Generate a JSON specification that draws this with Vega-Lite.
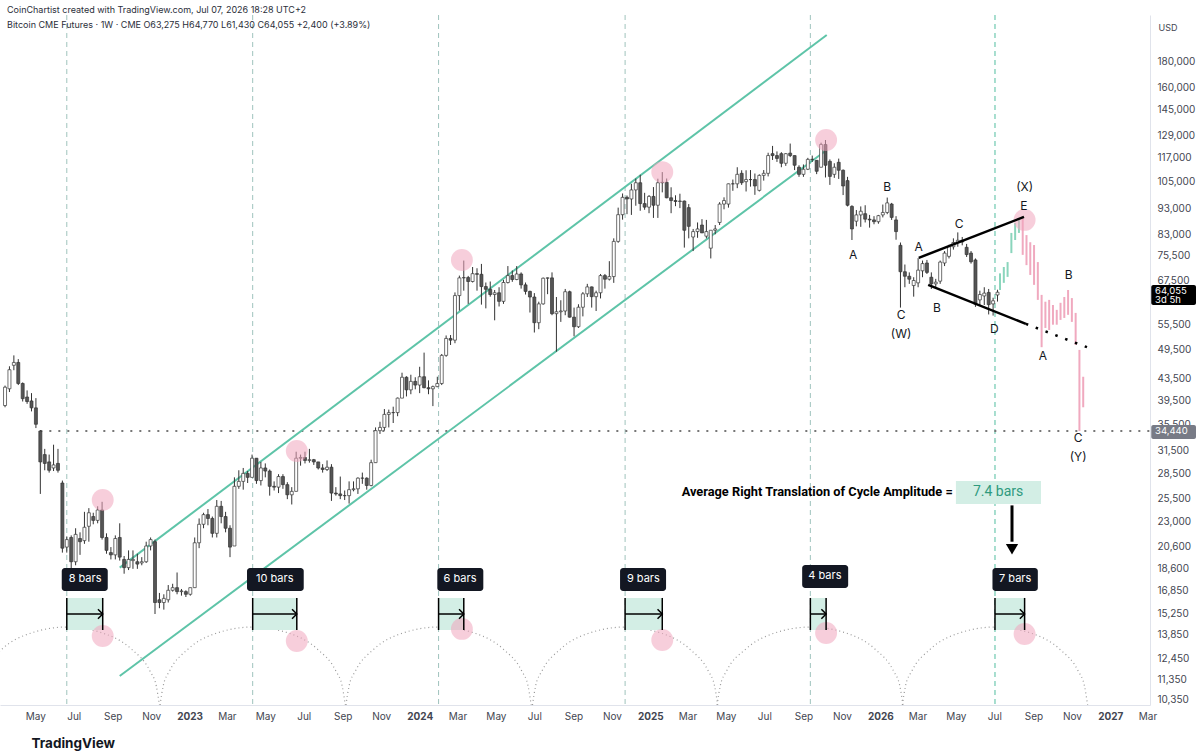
{
"$schema":"https://vega.github.io/schema/vega-lite/v6.json",
"width":1150,"height":690,
"autosize":{"type":"none"},
"padding":{"left":0,"top":15,"right":50,"bottom":51},
"background":"#ffffff",
"config":{"view":{"stroke":null},"font":"Inter"},
"title":{"text":"CoinChartist created with TradingView.com, Jul 07, 2026 18:28 UTC+2","subtitle":"Bitcoin CME Futures · 1W · CME  O63,275  H64,770  L61,430  C64,055  +2,400 (+3.89%)","anchor":"start","frame":"group","offset":-16,"dx":7,"fontSize":9,"fontWeight":"normal","color":"#2a2e39","subtitleFontSize":9,"subtitleColor":"#2a2e39","subtitlePadding":6,"font":"Inter","subtitleFont":"Inter"},
"datasets":{
"candles":[
{"d":"2022-03-14","o":38.6,"h":42.2,"l":38.3,"c":41.9},
{"d":"2022-03-21","o":41.6,"h":46.0,"l":41.0,"c":45.3},
{"d":"2022-03-28","o":46.2,"h":48.3,"l":45.2,"c":46.8},
{"d":"2022-04-04","o":46.8,"h":47.5,"l":42.3,"c":42.6},
{"d":"2022-04-11","o":42.6,"h":42.8,"l":39.3,"c":39.8},
{"d":"2022-04-18","o":40.1,"h":41.3,"l":38.9,"c":39.3},
{"d":"2022-04-25","o":39.4,"h":40.8,"l":37.6,"c":38.2},
{"d":"2022-05-02","o":38.2,"h":39.9,"l":34.9,"c":35.5},
{"d":"2022-05-09","o":34.44,"h":34.6,"l":26.0,"c":30.0},
{"d":"2022-05-16","o":31.0,"h":31.8,"l":28.9,"c":29.8},
{"d":"2022-05-23","o":30.0,"h":31.0,"l":28.6,"c":28.9},
{"d":"2022-05-30","o":29.2,"h":32.4,"l":28.8,"c":29.6},
{"d":"2022-06-06","o":29.8,"h":31.8,"l":28.6,"c":28.9},
{"d":"2022-06-13","o":27.3,"h":27.6,"l":20.0,"c":20.4},
{"d":"2022-06-20","o":20.5,"h":21.5,"l":20.0,"c":21.2},
{"d":"2022-06-27","o":21.4,"h":21.6,"l":18.5,"c":19.2},
{"d":"2022-07-04","o":19.2,"h":22.3,"l":18.9,"c":21.7},
{"d":"2022-07-11","o":21.3,"h":21.9,"l":19.8,"c":21.0},
{"d":"2022-07-18","o":21.1,"h":24.0,"l":20.8,"c":22.4},
{"d":"2022-07-25","o":22.5,"h":24.4,"l":21.0,"c":23.9},
{"d":"2022-08-01","o":23.5,"h":23.9,"l":22.7,"c":23.1},
{"d":"2022-08-08","o":23.1,"h":24.6,"l":22.8,"c":24.2},
{"d":"2022-08-15","o":24.2,"h":25.1,"l":21.2,"c":21.4},
{"d":"2022-08-22","o":21.4,"h":21.8,"l":19.9,"c":20.2},
{"d":"2022-08-29","o":20.0,"h":20.5,"l":19.4,"c":19.8},
{"d":"2022-09-05","o":19.8,"h":21.6,"l":19.4,"c":21.3},
{"d":"2022-09-12","o":21.4,"h":22.8,"l":19.3,"c":19.6},
{"d":"2022-09-19","o":19.4,"h":19.7,"l":18.2,"c":18.7},
{"d":"2022-09-26","o":18.7,"h":20.2,"l":18.5,"c":19.4},
{"d":"2022-10-03","o":19.3,"h":20.2,"l":18.6,"c":19.4},
{"d":"2022-10-10","o":19.2,"h":19.9,"l":18.6,"c":19.0},
{"d":"2022-10-17","o":19.1,"h":19.6,"l":18.9,"c":19.2},
{"d":"2022-10-24","o":19.2,"h":21.0,"l":19.1,"c":20.6},
{"d":"2022-10-31","o":20.6,"h":21.4,"l":20.2,"c":21.2},
{"d":"2022-11-07","o":21.0,"h":21.2,"l":15.2,"c":16.0},
{"d":"2022-11-14","o":16.2,"h":16.7,"l":15.6,"c":16.0},
{"d":"2022-11-21","o":16.0,"h":16.6,"l":15.5,"c":16.3},
{"d":"2022-11-28","o":16.2,"h":17.3,"l":16.0,"c":16.9},
{"d":"2022-12-05","o":16.9,"h":17.4,"l":16.8,"c":17.1},
{"d":"2022-12-12","o":17.1,"h":18.3,"l":16.6,"c":16.8},
{"d":"2022-12-19","o":16.8,"h":17.0,"l":16.5,"c":16.85},
{"d":"2022-12-26","o":16.8,"h":16.9,"l":16.4,"c":16.6},
{"d":"2023-01-02","o":16.6,"h":17.1,"l":16.5,"c":17.1},
{"d":"2023-01-09","o":17.1,"h":21.4,"l":17.1,"c":20.9},
{"d":"2023-01-16","o":20.9,"h":23.3,"l":20.4,"c":22.7},
{"d":"2023-01-23","o":22.7,"h":23.9,"l":22.3,"c":23.7},
{"d":"2023-01-30","o":23.7,"h":24.3,"l":22.6,"c":23.3},
{"d":"2023-02-06","o":23.3,"h":23.5,"l":21.4,"c":21.8},
{"d":"2023-02-13","o":21.8,"h":25.3,"l":21.4,"c":24.6},
{"d":"2023-02-20","o":24.6,"h":25.2,"l":22.8,"c":23.5},
{"d":"2023-02-27","o":23.5,"h":24.0,"l":21.9,"c":22.3},
{"d":"2023-03-06","o":22.3,"h":22.6,"l":19.6,"c":20.5},
{"d":"2023-03-13","o":20.6,"h":28.0,"l":20.6,"c":26.9},
{"d":"2023-03-20","o":26.9,"h":28.9,"l":26.6,"c":27.5},
{"d":"2023-03-27","o":27.5,"h":29.2,"l":26.5,"c":28.5},
{"d":"2023-04-03","o":28.5,"h":28.8,"l":27.3,"c":28.0},
{"d":"2023-04-10","o":28.0,"h":31.0,"l":28.0,"c":30.5},
{"d":"2023-04-17","o":30.5,"h":30.5,"l":27.2,"c":27.6},
{"d":"2023-04-24","o":27.6,"h":30.0,"l":27.0,"c":29.2},
{"d":"2023-05-01","o":29.2,"h":29.8,"l":28.0,"c":28.8},
{"d":"2023-05-08","o":28.8,"h":29.0,"l":25.8,"c":26.9},
{"d":"2023-05-15","o":26.9,"h":27.5,"l":26.4,"c":26.8},
{"d":"2023-05-22","o":26.8,"h":28.4,"l":26.1,"c":28.1},
{"d":"2023-05-29","o":28.1,"h":28.4,"l":26.6,"c":27.1},
{"d":"2023-06-05","o":27.1,"h":27.4,"l":25.4,"c":25.9},
{"d":"2023-06-12","o":25.9,"h":26.8,"l":24.8,"c":26.3},
{"d":"2023-06-19","o":26.3,"h":31.4,"l":26.3,"c":30.5},
{"d":"2023-06-26","o":30.5,"h":31.0,"l":29.5,"c":30.6},
{"d":"2023-07-03","o":30.6,"h":31.4,"l":29.8,"c":30.2},
{"d":"2023-07-10","o":30.2,"h":31.8,"l":29.9,"c":30.3},
{"d":"2023-07-17","o":30.3,"h":30.4,"l":29.6,"c":30.0},
{"d":"2023-07-24","o":30.0,"h":30.0,"l":29.0,"c":29.2},
{"d":"2023-07-31","o":29.2,"h":29.7,"l":28.6,"c":29.0},
{"d":"2023-08-07","o":29.0,"h":30.2,"l":28.8,"c":29.3},
{"d":"2023-08-14","o":29.3,"h":29.7,"l":25.2,"c":26.1},
{"d":"2023-08-21","o":26.1,"h":26.8,"l":25.8,"c":26.0},
{"d":"2023-08-28","o":26.0,"h":28.1,"l":25.4,"c":25.8},
{"d":"2023-09-04","o":25.8,"h":26.4,"l":25.3,"c":25.8},
{"d":"2023-09-11","o":25.8,"h":27.5,"l":24.9,"c":26.5},
{"d":"2023-09-18","o":26.5,"h":27.5,"l":26.3,"c":26.6},
{"d":"2023-09-25","o":26.6,"h":28.0,"l":26.0,"c":27.9},
{"d":"2023-10-02","o":27.9,"h":28.6,"l":27.2,"c":27.9},
{"d":"2023-10-09","o":27.9,"h":28.0,"l":26.5,"c":27.0},
{"d":"2023-10-16","o":27.0,"h":30.3,"l":26.9,"c":29.9},
{"d":"2023-10-23","o":29.9,"h":35.0,"l":29.9,"c":34.5},
{"d":"2023-10-30","o":34.5,"h":35.9,"l":34.0,"c":35.0},
{"d":"2023-11-06","o":35.0,"h":38.0,"l":34.5,"c":37.1},
{"d":"2023-11-13","o":37.1,"h":37.9,"l":35.0,"c":37.4},
{"d":"2023-11-20","o":37.4,"h":38.4,"l":35.7,"c":37.4},
{"d":"2023-11-27","o":37.4,"h":40.0,"l":36.8,"c":39.9},
{"d":"2023-12-04","o":39.9,"h":44.7,"l":39.9,"c":43.8},
{"d":"2023-12-11","o":43.8,"h":44.0,"l":40.2,"c":41.4},
{"d":"2023-12-18","o":41.4,"h":44.3,"l":40.6,"c":43.0},
{"d":"2023-12-25","o":43.0,"h":43.8,"l":41.5,"c":42.3},
{"d":"2024-01-01","o":42.3,"h":45.9,"l":40.8,"c":43.9},
{"d":"2024-01-08","o":43.9,"h":48.9,"l":41.7,"c":41.8},
{"d":"2024-01-15","o":41.8,"h":43.2,"l":40.6,"c":41.6},
{"d":"2024-01-22","o":41.6,"h":42.2,"l":38.5,"c":42.0},
{"d":"2024-01-29","o":42.0,"h":43.9,"l":41.9,"c":42.6},
{"d":"2024-02-05","o":42.6,"h":48.6,"l":42.3,"c":48.3},
{"d":"2024-02-12","o":48.3,"h":52.8,"l":48.0,"c":52.1},
{"d":"2024-02-19","o":52.1,"h":52.9,"l":50.6,"c":51.7},
{"d":"2024-02-26","o":51.7,"h":64.0,"l":51.0,"c":63.1},
{"d":"2024-03-04","o":63.1,"h":69.0,"l":59.0,"c":68.3},
{"d":"2024-03-11","o":68.3,"h":73.8,"l":64.5,"c":68.4},
{"d":"2024-03-18","o":68.4,"h":68.9,"l":60.8,"c":67.2},
{"d":"2024-03-25","o":67.2,"h":71.7,"l":66.9,"c":69.6},
{"d":"2024-04-01","o":69.6,"h":71.3,"l":64.5,"c":69.4},
{"d":"2024-04-08","o":69.4,"h":72.7,"l":60.6,"c":65.7},
{"d":"2024-04-15","o":65.7,"h":66.9,"l":59.6,"c":64.9},
{"d":"2024-04-22","o":64.9,"h":67.2,"l":62.8,"c":63.4},
{"d":"2024-04-29","o":63.4,"h":64.7,"l":56.5,"c":63.9},
{"d":"2024-05-06","o":63.9,"h":65.5,"l":60.1,"c":61.5},
{"d":"2024-05-13","o":61.5,"h":67.7,"l":60.8,"c":66.9},
{"d":"2024-05-20","o":66.9,"h":72.0,"l":66.6,"c":69.0},
{"d":"2024-05-27","o":69.0,"h":70.6,"l":67.1,"c":67.8},
{"d":"2024-06-03","o":67.8,"h":72.0,"l":67.6,"c":69.5},
{"d":"2024-06-10","o":69.5,"h":70.0,"l":65.1,"c":66.2},
{"d":"2024-06-17","o":66.2,"h":66.9,"l":63.4,"c":64.3},
{"d":"2024-06-24","o":64.3,"h":64.5,"l":58.5,"c":62.7},
{"d":"2024-07-01","o":62.7,"h":63.8,"l":53.5,"c":55.9},
{"d":"2024-07-08","o":55.9,"h":61.4,"l":54.3,"c":60.8},
{"d":"2024-07-15","o":60.8,"h":68.4,"l":60.6,"c":68.2},
{"d":"2024-07-22","o":68.2,"h":68.4,"l":63.5,"c":68.3},
{"d":"2024-07-29","o":68.3,"h":70.0,"l":57.8,"c":58.2},
{"d":"2024-08-05","o":58.2,"h":62.7,"l":49.1,"c":58.7},
{"d":"2024-08-12","o":58.7,"h":61.8,"l":56.1,"c":58.9},
{"d":"2024-08-19","o":58.9,"h":65.0,"l":57.8,"c":64.2},
{"d":"2024-08-26","o":64.2,"h":64.5,"l":57.2,"c":57.3},
{"d":"2024-09-02","o":57.3,"h":59.8,"l":52.6,"c":54.9},
{"d":"2024-09-09","o":54.9,"h":60.7,"l":54.6,"c":59.9},
{"d":"2024-09-16","o":59.9,"h":64.1,"l":57.5,"c":63.6},
{"d":"2024-09-23","o":63.6,"h":66.5,"l":62.7,"c":65.6},
{"d":"2024-09-30","o":65.6,"h":65.7,"l":59.8,"c":62.8},
{"d":"2024-10-07","o":62.8,"h":64.5,"l":58.9,"c":63.9},
{"d":"2024-10-14","o":63.9,"h":69.5,"l":62.3,"c":69.0},
{"d":"2024-10-21","o":69.0,"h":69.5,"l":65.1,"c":67.9},
{"d":"2024-10-28","o":67.9,"h":73.6,"l":67.5,"c":68.7},
{"d":"2024-11-04","o":68.7,"h":81.5,"l":66.8,"c":80.4},
{"d":"2024-11-11","o":80.4,"h":93.5,"l":79.9,"c":90.6},
{"d":"2024-11-18","o":90.6,"h":99.6,"l":88.6,"c":97.9},
{"d":"2024-11-25","o":97.9,"h":98.7,"l":90.8,"c":97.2},
{"d":"2024-12-02","o":97.2,"h":104.0,"l":90.5,"c":101.2},
{"d":"2024-12-09","o":101.2,"h":106.5,"l":94.3,"c":104.5},
{"d":"2024-12-16","o":104.5,"h":108.3,"l":92.2,"c":95.2},
{"d":"2024-12-23","o":95.2,"h":99.9,"l":92.6,"c":93.7},
{"d":"2024-12-30","o":93.7,"h":98.9,"l":91.2,"c":98.3},
{"d":"2025-01-06","o":98.3,"h":102.5,"l":89.3,"c":94.5},
{"d":"2025-01-13","o":94.5,"h":106.4,"l":89.3,"c":104.5},
{"d":"2025-01-20","o":104.5,"h":109.6,"l":100.1,"c":104.7},
{"d":"2025-01-27","o":104.7,"h":106.5,"l":97.5,"c":97.7},
{"d":"2025-02-03","o":97.7,"h":102.4,"l":91.2,"c":96.5},
{"d":"2025-02-10","o":96.5,"h":98.8,"l":94.1,"c":96.1},
{"d":"2025-02-17","o":96.1,"h":99.5,"l":93.3,"c":96.3},
{"d":"2025-02-24","o":96.3,"h":96.5,"l":78.2,"c":84.5},
{"d":"2025-03-03","o":93.5,"h":95.0,"l":81.5,"c":86.0},
{"d":"2025-03-10","o":82.0,"h":85.0,"l":77.0,"c":84.0},
{"d":"2025-03-17","o":84.0,"h":87.5,"l":81.7,"c":85.0},
{"d":"2025-03-24","o":86.5,"h":88.8,"l":83.5,"c":83.5},
{"d":"2025-03-31","o":82.3,"h":88.5,"l":81.5,"c":84.0},
{"d":"2025-04-07","o":78.0,"h":83.6,"l":74.5,"c":84.5},
{"d":"2025-04-14","o":84.5,"h":86.5,"l":83.0,"c":85.0},
{"d":"2025-04-21","o":87.5,"h":95.8,"l":86.5,"c":95.0},
{"d":"2025-04-28","o":95.0,"h":97.9,"l":92.8,"c":96.5},
{"d":"2025-05-05","o":95.0,"h":104.1,"l":93.5,"c":104.0},
{"d":"2025-05-12","o":104.0,"h":106.0,"l":100.8,"c":104.0},
{"d":"2025-05-19","o":104.0,"h":112.0,"l":102.0,"c":108.5},
{"d":"2025-05-26","o":109.0,"h":110.5,"l":103.5,"c":104.5},
{"d":"2025-06-02","o":105.0,"h":110.5,"l":100.5,"c":106.0},
{"d":"2025-06-09","o":106.0,"h":110.6,"l":102.7,"c":106.0},
{"d":"2025-06-16","o":106.0,"h":108.9,"l":99.0,"c":103.0},
{"d":"2025-06-23","o":101.0,"h":108.5,"l":100.5,"c":108.0},
{"d":"2025-06-30","o":108.0,"h":110.6,"l":105.5,"c":109.0},
{"d":"2025-07-07","o":109.0,"h":119.5,"l":107.5,"c":118.0},
{"d":"2025-07-14","o":119.0,"h":123.2,"l":115.7,"c":118.0},
{"d":"2025-07-21","o":118.0,"h":120.2,"l":114.7,"c":116.5},
{"d":"2025-07-28","o":119.0,"h":119.8,"l":112.0,"c":114.0},
{"d":"2025-08-04","o":114.0,"h":119.3,"l":112.7,"c":119.0},
{"d":"2025-08-11","o":119.3,"h":124.5,"l":117.2,"c":118.0},
{"d":"2025-08-18","o":118.0,"h":118.0,"l":110.6,"c":113.0},
{"d":"2025-08-25","o":112.0,"h":113.0,"l":107.3,"c":108.5},
{"d":"2025-09-01","o":108.5,"h":113.4,"l":107.3,"c":111.0},
{"d":"2025-09-08","o":111.0,"h":116.8,"l":110.6,"c":116.0},
{"d":"2025-09-15","o":116.0,"h":118.0,"l":114.7,"c":116.0},
{"d":"2025-09-22","o":115.5,"h":115.6,"l":108.6,"c":110.0},
{"d":"2025-09-29","o":112.0,"h":125.0,"l":112.0,"c":124.0},
{"d":"2025-10-06","o":124.0,"h":126.5,"l":107.0,"c":113.0},
{"d":"2025-10-13","o":115.0,"h":116.0,"l":103.5,"c":107.5},
{"d":"2025-10-20","o":108.5,"h":114.0,"l":106.8,"c":112.0},
{"d":"2025-10-27","o":114.5,"h":116.4,"l":106.3,"c":110.5},
{"d":"2025-11-03","o":110.5,"h":110.9,"l":98.9,"c":103.0},
{"d":"2025-11-10","o":105.5,"h":107.3,"l":94.0,"c":94.5},
{"d":"2025-11-17","o":94.0,"h":94.5,"l":80.9,"c":85.0},
{"d":"2025-11-24","o":88.0,"h":92.5,"l":86.0,"c":90.5},
{"d":"2025-12-01","o":90.5,"h":94.0,"l":85.8,"c":92.0},
{"d":"2025-12-08","o":91.0,"h":94.5,"l":87.5,"c":88.8},
{"d":"2025-12-15","o":88.8,"h":90.5,"l":85.5,"c":88.5},
{"d":"2025-12-22","o":88.5,"h":90.0,"l":86.8,"c":87.8},
{"d":"2025-12-29","o":87.8,"h":90.5,"l":87.0,"c":90.2},
{"d":"2026-01-05","o":90.5,"h":94.8,"l":89.5,"c":91.5},
{"d":"2026-01-12","o":91.5,"h":97.8,"l":90.8,"c":95.5},
{"d":"2026-01-19","o":95.0,"h":95.5,"l":88.5,"c":89.5},
{"d":"2026-01-26","o":88.5,"h":90.0,"l":81.0,"c":84.0},
{"d":"2026-02-02","o":79.0,"h":80.0,"l":59.8,"c":70.2},
{"d":"2026-02-09","o":70.2,"h":72.5,"l":65.5,"c":68.8},
{"d":"2026-02-16","o":68.8,"h":70.0,"l":66.5,"c":67.9},
{"d":"2026-02-23","o":66.0,"h":68.5,"l":62.8,"c":67.5},
{"d":"2026-03-02","o":66.8,"h":74.6,"l":65.5,"c":70.7},
{"d":"2026-03-09","o":70.5,"h":73.8,"l":68.5,"c":72.8},
{"d":"2026-03-16","o":73.0,"h":74.0,"l":69.5,"c":70.0},
{"d":"2026-03-23","o":68.5,"h":70.0,"l":65.0,"c":66.5},
{"d":"2026-03-30","o":66.5,"h":68.0,"l":65.5,"c":67.0},
{"d":"2026-04-06","o":67.3,"h":73.8,"l":66.5,"c":73.3},
{"d":"2026-04-13","o":73.0,"h":77.0,"l":72.0,"c":76.3},
{"d":"2026-04-20","o":75.2,"h":79.2,"l":74.5,"c":78.5},
{"d":"2026-04-27","o":78.5,"h":81.5,"l":77.5,"c":80.0},
{"d":"2026-05-04","o":80.0,"h":83.7,"l":78.5,"c":80.8},
{"d":"2026-05-11","o":80.8,"h":82.0,"l":79.0,"c":80.2},
{"d":"2026-05-18","o":78.3,"h":79.5,"l":75.0,"c":75.8},
{"d":"2026-05-25","o":76.3,"h":77.0,"l":72.8,"c":73.4},
{"d":"2026-06-01","o":74.0,"h":74.5,"l":60.0,"c":60.7},
{"d":"2026-06-08","o":61.9,"h":64.5,"l":60.5,"c":63.4},
{"d":"2026-06-15","o":63.0,"h":65.5,"l":60.5,"c":63.8},
{"d":"2026-06-22","o":64.0,"h":65.0,"l":58.0,"c":60.6},
{"d":"2026-06-29","o":60.8,"h":62.5,"l":57.7,"c":61.65},
{"d":"2026-07-06","o":63.275,"h":64.77,"l":61.43,"c":64.055}
],
"projUp":[
{"d":"2026-07-10","h":69.7,"l":64.7},
{"d":"2026-07-16","h":71.7,"l":66.8},
{"d":"2026-07-22","h":73.3,"l":68.6},
{"d":"2026-07-28","h":83.5,"l":76.3},
{"d":"2026-08-03","h":87.3,"l":80.9},
{"d":"2026-08-09","h":88.5,"l":83.5}
],
"projDown":[
{"d":"2026-08-15","h":89.3,"l":75.7},
{"d":"2026-08-21","h":82.7,"l":72.3},
{"d":"2026-08-27","h":80.1,"l":69.2},
{"d":"2026-09-02","h":79.1,"l":66.2},
{"d":"2026-09-08","h":73.3,"l":61.9},
{"d":"2026-09-14","h":63.3,"l":50.1},
{"d":"2026-09-20","h":61.4,"l":54.6},
{"d":"2026-09-26","h":61.9,"l":54.1},
{"d":"2026-10-02","h":60.5,"l":55.4},
{"d":"2026-10-08","h":59.2,"l":55.4},
{"d":"2026-10-14","h":61.1,"l":56.6},
{"d":"2026-10-20","h":62.7,"l":57.1},
{"d":"2026-10-26","h":64.7,"l":57.9},
{"d":"2026-11-01","h":62.4,"l":56.1},
{"d":"2026-11-07","h":58.4,"l":50.6},
{"d":"2026-11-13","h":49.5,"l":34.44},
{"d":"2026-11-19","h":43.9,"l":38.3}
],
"vgray":[{"d":"2022-06-20"},{"d":"2023-04-11"},{"d":"2024-01-31"},{"d":"2024-11-22"},{"d":"2025-09-12"}],
"vteal":[{"d":"2026-07-02"}],
"arcs":[
{"a":1,"d":"2022-01-25","v":10.12},{"a":1,"d":"2022-01-30","v":11.02},{"a":1,"d":"2022-02-09","v":11.78},{"a":1,"d":"2022-03-09","v":12.98},{"a":1,"d":"2022-04-22","v":13.93},{"a":1,"d":"2022-06-20","v":14.34},{"a":1,"d":"2022-08-18","v":13.93},{"a":1,"d":"2022-10-01","v":12.98},{"a":1,"d":"2022-10-30","v":11.78},{"a":1,"d":"2022-11-09","v":11.02},{"a":1,"d":"2022-11-14","v":10.12},
{"a":2,"d":"2022-11-15","v":10.12},{"a":2,"d":"2022-11-20","v":11.02},{"a":2,"d":"2022-11-30","v":11.78},{"a":2,"d":"2022-12-29","v":12.98},{"a":2,"d":"2023-02-11","v":13.93},{"a":2,"d":"2023-04-11","v":14.34},{"a":2,"d":"2023-06-09","v":13.93},{"a":2,"d":"2023-07-23","v":12.98},{"a":2,"d":"2023-08-21","v":11.78},{"a":2,"d":"2023-08-31","v":11.02},{"a":2,"d":"2023-09-05","v":10.12},
{"a":3,"d":"2023-09-06","v":10.12},{"a":3,"d":"2023-09-11","v":11.02},{"a":3,"d":"2023-09-21","v":11.78},{"a":3,"d":"2023-10-20","v":12.98},{"a":3,"d":"2023-12-03","v":13.93},{"a":3,"d":"2024-01-31","v":14.34},{"a":3,"d":"2024-03-30","v":13.93},{"a":3,"d":"2024-05-13","v":12.98},{"a":3,"d":"2024-06-11","v":11.78},{"a":3,"d":"2024-06-21","v":11.02},{"a":3,"d":"2024-06-26","v":10.12},
{"a":4,"d":"2024-06-28","v":10.12},{"a":4,"d":"2024-07-03","v":11.02},{"a":4,"d":"2024-07-13","v":11.78},{"a":4,"d":"2024-08-11","v":12.98},{"a":4,"d":"2024-09-24","v":13.93},{"a":4,"d":"2024-11-22","v":14.34},{"a":4,"d":"2025-01-20","v":13.93},{"a":4,"d":"2025-03-05","v":12.98},{"a":4,"d":"2025-04-03","v":11.78},{"a":4,"d":"2025-04-13","v":11.02},{"a":4,"d":"2025-04-18","v":10.12},
{"a":5,"d":"2025-04-17","v":10.12},{"a":5,"d":"2025-04-22","v":11.02},{"a":5,"d":"2025-05-02","v":11.78},{"a":5,"d":"2025-06-01","v":12.98},{"a":5,"d":"2025-07-15","v":13.93},{"a":5,"d":"2025-09-12","v":14.34},{"a":5,"d":"2025-11-10","v":13.93},{"a":5,"d":"2025-12-24","v":12.98},{"a":5,"d":"2026-01-22","v":11.78},{"a":5,"d":"2026-02-01","v":11.02},{"a":5,"d":"2026-02-06","v":10.12},
{"a":6,"d":"2026-02-05","v":10.12},{"a":6,"d":"2026-02-10","v":11.02},{"a":6,"d":"2026-02-20","v":11.78},{"a":6,"d":"2026-03-21","v":12.98},{"a":6,"d":"2026-05-04","v":13.93},{"a":6,"d":"2026-07-02","v":14.34},{"a":6,"d":"2026-08-30","v":13.93},{"a":6,"d":"2026-10-13","v":12.98},{"a":6,"d":"2026-11-11","v":11.78},{"a":6,"d":"2026-11-21","v":11.02},{"a":6,"d":"2026-11-26","v":10.12}
],
"hline":[{"d1":"2022-05-09","d2":"2027-03-05","v":34.44}],
"channels":[{"d1":"2022-09-12","v1":18.7,"d2":"2025-10-08","v2":202.3},{"d1":"2022-09-12","v1":11.52,"d2":"2025-10-08","v2":121.0}],
"ranges":[{"s":"2022-06-20","e":"2022-08-16"},{"s":"2023-04-11","e":"2023-06-20"},{"s":"2024-01-31","e":"2024-03-11"},{"s":"2024-11-22","e":"2025-01-20"},{"s":"2025-09-12","e":"2025-10-07"},{"s":"2026-07-02","e":"2026-08-18"}],
"circles":[
{"d":"2022-08-16","v":25.3},{"d":"2023-06-20","v":31.5},{"d":"2024-03-08","v":74.0},{"d":"2025-01-20","v":109.6},{"d":"2025-10-07","v":126.5},{"d":"2026-08-18","v":88.5},
{"d":"2022-08-16","v":13.78},{"d":"2023-06-20","v":13.47},{"d":"2024-03-08","v":14.22},{"d":"2025-01-20","v":13.53},{"d":"2025-10-07","v":13.96},{"d":"2026-08-18","v":13.9}
],
"tri":[{"d1":"2026-03-03","v1":74.7,"d2":"2026-08-17","v2":89.7},{"d1":"2026-03-18","v1":66.2,"d2":"2026-08-20","v2":55.6}],
"tridot":[{"d1":"2026-08-20","v1":55.6,"d2":"2026-11-25","v2":50.1}],
"boxes":[
{"d1":"2022-06-12","d2":"2022-08-24","dm":"2022-07-19","y1":18.67,"y2":16.85,"ym":17.74,"t":"8 bars"},
{"d1":"2023-04-02","d2":"2023-07-01","dm":"2023-05-16","y1":18.67,"y2":16.85,"ym":17.74,"t":"10 bars"},
{"d1":"2024-01-29","d2":"2024-04-11","dm":"2024-03-05","y1":18.67,"y2":16.85,"ym":17.74,"t":"6 bars"},
{"d1":"2024-11-14","d2":"2025-01-26","dm":"2024-12-21","y1":18.67,"y2":16.85,"ym":17.74,"t":"9 bars"},
{"d1":"2025-08-30","d2":"2025-11-11","dm":"2025-10-05","y1":18.92,"y2":17.08,"ym":17.98,"t":"4 bars"},
{"d1":"2026-06-28","d2":"2026-09-08","dm":"2026-08-03","y1":18.67,"y2":16.85,"ym":17.74,"t":"7 bars"}
],
"waves":[
{"d":"2026-01-12","v":102.5,"t":"B"},{"d":"2025-11-19","v":75.7,"t":"A"},{"d":"2026-02-03","v":57.9,"t":"C"},{"d":"2026-02-03","v":53.15,"t":"(W)"},
{"d":"2026-03-03","v":78.4,"t":"A"},{"d":"2026-04-01","v":59.7,"t":"B"},{"d":"2026-05-06","v":87.0,"t":"C"},{"d":"2026-07-01","v":54.3,"t":"D"},
{"d":"2026-08-18","v":102.5,"t":"(X)"},{"d":"2026-08-17","v":94.2,"t":"E"},{"d":"2026-10-27","v":69.2,"t":"B"},{"d":"2026-09-16","v":48.2,"t":"A"},
{"d":"2026-11-11","v":33.4,"t":"C"},{"d":"2026-11-11","v":30.67,"t":"(Y)"}
],
"annot":[{"d":"2026-04-26","v":26.23,"t":"Average Right Translation of Cycle Amplitude = "}],
"abox":[{"d1":"2026-05-01","d2":"2026-09-13","v1":27.55,"v2":24.86,"dm":"2026-07-07","vm":26.23,"t":"7.4 bars"}],
"arrow":[{"d":"2026-07-29","v1":24.7,"v2":21.0,"vh":20.3}],
"tags":[{"d1":"2027-03-07","d2":"2027-05-17","v1":66.17,"v2":60.5,"k":"cur"},{"d1":"2027-03-07","d2":"2027-05-17","v1":35.39,"v2":33.24,"k":"lvl"}],
"tagtext":[{"d":"2027-03-13","v":64.5,"t":"64,055"},{"d":"2027-03-13","v":61.8,"t":"3d 5h"},{"d":"2027-03-13","v":34.44,"t":"34,440"}]
},
"layer":[
{"data":{"name":"vgray"},"mark":{"type":"rule","color":"#9fc3bd","strokeDash":[5,4],"strokeWidth":1},
 "encoding":{"x":{"field":"d","type":"temporal","title":"TradingView","scale":{"type":"utc","nice":false,"padding":0,"domain":[{"year":2022,"month":3,"date":6,"utc":true},{"year":2027,"month":3,"date":5,"utc":true}]},
  "axis":{"orient":"bottom","tickCount":{"interval":"month","step":2},"labelExpr":"utcmonth(datum.value)==0 ? utcFormat(datum.value,'%Y') : utcFormat(datum.value,'%b')","labelFontWeight":{"condition":{"test":"utcmonth(datum.value)==0","value":"bold"},"value":"normal"},"labelFontSize":10,"labelColor":"#434651","labelPadding":6,"ticks":false,"grid":false,"domainColor":"#e0e3eb","labelOverlap":false,"labelFlush":false,"labelBound":false,"titleFontSize":13.5,"titleFontWeight":"bold","titleColor":"#131722","titleAnchor":"start","titleAlign":"left","titleX":31,"titleY":38,"titleBaseline":"middle","titleFont":"Inter"}}}},
{"data":{"name":"vteal"},"mark":{"type":"rule","color":"#6fc9b0","strokeDash":[5,4],"strokeWidth":1.2},
 "encoding":{"x":{"field":"d","type":"temporal","scale":{"type":"utc"}}}},
{"data":{"name":"arcs"},"mark":{"type":"line","color":"#9a9a9a","strokeDash":[1,3],"strokeWidth":1.2,"interpolate":"monotone","clip":true},
 "encoding":{"x":{"field":"d","type":"temporal","scale":{"type":"utc"}},"y":{"field":"v","type":"quantitative","scale":{"type":"log"}},"detail":{"field":"a"}}},
{"data":{"name":"hline"},"mark":{"type":"rule","color":"#777777","strokeDash":[2,7],"strokeWidth":2},
 "encoding":{"x":{"field":"d1","type":"temporal","scale":{"type":"utc"}},"x2":{"field":"d2"},"y":{"field":"v","type":"quantitative","scale":{"type":"log"}}}},
{"data":{"name":"channels"},"mark":{"type":"rule","color":"#5ec4a8","strokeWidth":2},
 "encoding":{"x":{"field":"d1","type":"temporal","scale":{"type":"utc"}},"x2":{"field":"d2"},"y":{"field":"v1","type":"quantitative","scale":{"type":"log"}},"y2":{"field":"v2"}}},
{"data":{"name":"ranges"},"mark":{"type":"rect","color":"#d3eee5"},
 "encoding":{"x":{"field":"s","type":"temporal","scale":{"type":"utc"}},"x2":{"field":"e"},"y":{"datum":16.33,"type":"quantitative","scale":{"type":"log"}},"y2":{"datum":14.15}}},
{"data":{"name":"candles"},"mark":{"type":"rule","color":"#333333","strokeWidth":1},
 "encoding":{"x":{"field":"d","type":"temporal","scale":{"type":"utc"}},
  "y":{"field":"l","type":"quantitative","title":"USD","scale":{"type":"log","nice":false,"zero":false,"domain":[10.12,221.2]},
   "axis":{"orient":"right","values":[180,160,145,129,117,105,93,83,75.5,67.5,55.5,49.5,43.5,39.5,35.5,31.5,28.5,25.5,23,20.6,18.6,16.85,15.25,13.85,12.45,11.35,10.35],"labelExpr":"format(datum.value*1000, ',.0f')","labelFontSize":10,"labelColor":"#434651","ticks":false,"grid":false,"domainColor":"#e0e3eb","labelPadding":7,"labelOverlap":false,"labelBound":false,"labelFlush":false,"titleAngle":0,"titleX":8,"titleY":12,"titleAlign":"left","titleBaseline":"middle","titleFontSize":9,"titleFontWeight":"normal","titleColor":"#434651"}},
  "y2":{"field":"h"}}},
{"data":{"name":"candles"},"mark":{"type":"bar","size":3,"stroke":"#333333","strokeWidth":0.7},
 "encoding":{"x":{"field":"d","type":"temporal","scale":{"type":"utc"}},"y":{"field":"o","type":"quantitative","scale":{"type":"log"}},"y2":{"field":"c"},
  "fill":{"condition":{"test":"datum.c >= datum.o","value":"#ffffff"},"value":"#555555"}}},
{"data":{"name":"projUp"},"mark":{"type":"rule","color":"#8ad5bc","strokeWidth":2},
 "encoding":{"x":{"field":"d","type":"temporal","scale":{"type":"utc"}},"y":{"field":"l","type":"quantitative","scale":{"type":"log"}},"y2":{"field":"h"}}},
{"data":{"name":"projDown"},"mark":{"type":"rule","color":"#f0a9bf","strokeWidth":2},
 "encoding":{"x":{"field":"d","type":"temporal","scale":{"type":"utc"}},"y":{"field":"l","type":"quantitative","scale":{"type":"log"}},"y2":{"field":"h"}}},
{"data":{"name":"circles"},"mark":{"type":"point","filled":true,"color":"#f0a6bd","opacity":0.55,"size":480},
 "encoding":{"x":{"field":"d","type":"temporal","scale":{"type":"utc"}},"y":{"field":"v","type":"quantitative","scale":{"type":"log"}}}},
{"data":{"name":"tri"},"mark":{"type":"rule","color":"#000000","strokeWidth":2.5},
 "encoding":{"x":{"field":"d1","type":"temporal","scale":{"type":"utc"}},"x2":{"field":"d2"},"y":{"field":"v1","type":"quantitative","scale":{"type":"log"}},"y2":{"field":"v2"}}},
{"data":{"name":"tridot"},"mark":{"type":"rule","color":"#000000","strokeWidth":2.5,"strokeDash":[2.5,8]},
 "encoding":{"x":{"field":"d1","type":"temporal","scale":{"type":"utc"}},"x2":{"field":"d2"},"y":{"field":"v1","type":"quantitative","scale":{"type":"log"}},"y2":{"field":"v2"}}},
{"data":{"name":"ranges"},"mark":{"type":"rule","color":"#000000","strokeWidth":1.5},
 "encoding":{"x":{"field":"s","type":"temporal","scale":{"type":"utc"}},"y":{"datum":16.33,"type":"quantitative","scale":{"type":"log"}},"y2":{"datum":14.15}}},
{"data":{"name":"ranges"},"mark":{"type":"rule","color":"#000000","strokeWidth":1.5},
 "encoding":{"x":{"field":"e","type":"temporal","scale":{"type":"utc"}},"y":{"datum":16.33,"type":"quantitative","scale":{"type":"log"}},"y2":{"datum":14.15}}},
{"data":{"name":"ranges"},"mark":{"type":"rule","color":"#000000","strokeWidth":1.5},
 "encoding":{"x":{"field":"s","type":"temporal","scale":{"type":"utc"}},"x2":{"field":"e"},"y":{"datum":15.2,"type":"quantitative","scale":{"type":"log"}}}},
{"data":{"name":"ranges"},"mark":{"type":"point","shape":"M -1 -1 L 0 0 L -1 1","filled":false,"stroke":"#000000","strokeWidth":1.5,"size":90,"opacity":1},
 "encoding":{"x":{"field":"e","type":"temporal","scale":{"type":"utc"}},"y":{"datum":15.2,"type":"quantitative","scale":{"type":"log"}}}},
{"data":{"name":"boxes"},"mark":{"type":"rect","color":"#131722","cornerRadius":3},
 "encoding":{"x":{"field":"d1","type":"temporal","scale":{"type":"utc"}},"x2":{"field":"d2"},"y":{"field":"y1","type":"quantitative","scale":{"type":"log"}},"y2":{"field":"y2"}}},
{"data":{"name":"boxes"},"mark":{"type":"text","color":"#ffffff","fontSize":11,"font":"Inter","align":"center","baseline":"middle"},
 "encoding":{"x":{"field":"dm","type":"temporal","scale":{"type":"utc"}},"y":{"field":"ym","type":"quantitative","scale":{"type":"log"}},"text":{"field":"t"}}},
{"data":{"name":"waves"},"mark":{"type":"text","color":"#131722","fontSize":12,"font":"Inter","align":"center","baseline":"middle"},
 "encoding":{"x":{"field":"d","type":"temporal","scale":{"type":"utc"}},"y":{"field":"v","type":"quantitative","scale":{"type":"log"}},"text":{"field":"t"}}},
{"data":{"name":"annot"},"mark":{"type":"text","color":"#000000","fontSize":12.8,"fontWeight":"bold","font":"Roboto","align":"right","baseline":"middle"},
 "encoding":{"x":{"field":"d","type":"temporal","scale":{"type":"utc"}},"y":{"field":"v","type":"quantitative","scale":{"type":"log"}},"text":{"field":"t"}}},
{"data":{"name":"abox"},"mark":{"type":"rect","color":"#d3eee5"},
 "encoding":{"x":{"field":"d1","type":"temporal","scale":{"type":"utc"}},"x2":{"field":"d2"},"y":{"field":"v1","type":"quantitative","scale":{"type":"log"}},"y2":{"field":"v2"}}},
{"data":{"name":"abox"},"mark":{"type":"text","color":"#2f9a7e","fontSize":14,"font":"Roboto","align":"center","baseline":"middle"},
 "encoding":{"x":{"field":"dm","type":"temporal","scale":{"type":"utc"}},"y":{"field":"vm","type":"quantitative","scale":{"type":"log"}},"text":{"field":"t"}}},
{"data":{"name":"arrow"},"mark":{"type":"rule","color":"#000000","strokeWidth":3},
 "encoding":{"x":{"field":"d","type":"temporal","scale":{"type":"utc"}},"y":{"field":"v1","type":"quantitative","scale":{"type":"log"}},"y2":{"field":"v2"}}},
{"data":{"name":"arrow"},"mark":{"type":"point","shape":"triangle-down","filled":true,"color":"#000000","size":150,"opacity":1},
 "encoding":{"x":{"field":"d","type":"temporal","scale":{"type":"utc"}},"y":{"field":"vh","type":"quantitative","scale":{"type":"log"}}}},
{"data":{"name":"tags"},"mark":{"type":"rect","cornerRadius":2},
 "encoding":{"x":{"field":"d1","type":"temporal","scale":{"type":"utc"}},"x2":{"field":"d2"},"y":{"field":"v1","type":"quantitative","scale":{"type":"log"}},"y2":{"field":"v2"},
  "fill":{"condition":{"test":"datum.k == 'cur'","value":"#000000"},"value":"#787b86"}}},
{"data":{"name":"tagtext"},"mark":{"type":"text","color":"#ffffff","fontSize":9.5,"font":"Inter","align":"left","baseline":"middle"},
 "encoding":{"x":{"field":"d","type":"temporal","scale":{"type":"utc"}},"y":{"field":"v","type":"quantitative","scale":{"type":"log"}},"text":{"field":"t"}}}
]
}
